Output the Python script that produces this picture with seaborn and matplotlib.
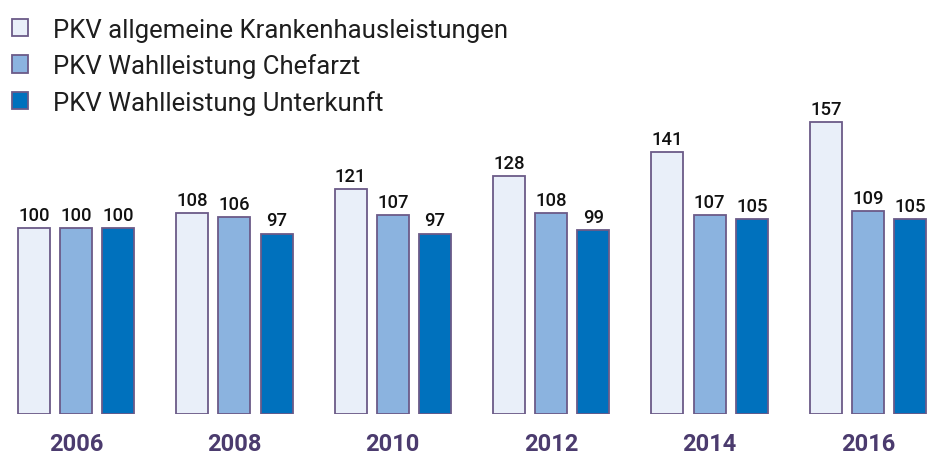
import matplotlib
matplotlib.use("Agg")
import matplotlib.pyplot as plt
import seaborn as sns
import pandas as pd

years = ["2006", "2008", "2010", "2012", "2014", "2016"]
series = [
    "PKV allgemeine Krankenhausleistungen",
    "PKV Wahlleistung Chefarzt",
    "PKV Wahlleistung Unterkunft",
]
allgemein = [100, 108, 121, 128, 141, 157]
chefarzt = [100, 106, 107, 108, 107, 109]
unterkunft = [100, 97, 97, 99, 105, 105]

colors = ["#e9eff9", "#8bb3df", "#0071bd"]
edge = "#6b5a88"
year_color = "#4b3b6e"

rows = []
for name, vals in zip(series, [allgemein, chefarzt, unterkunft]):
    for y, v in zip(years, vals):
        rows.append({"Jahr": y, "Serie": name, "Wert": v})
df = pd.DataFrame(rows)

sns.set_style("white")
plt.rcParams["font.family"] = ["Roboto", "DejaVu Sans"]

fig = plt.figure(figsize=(9.32, 4.56), dpi=100)
ax = fig.add_axes([0, 41 / 456, 1, 415 / 456])

sns.barplot(
    data=df, x="Jahr", y="Wert", hue="Serie", hue_order=series,
    palette=colors, saturation=1, edgecolor=edge, linewidth=1.3,
    width=0.8, gap=0.24, ax=ax, legend=True,
)

for cont in ax.containers:
    ax.bar_label(cont, padding=3, fontsize=13.3, fontweight="medium", color="#111111")

ax.set_xlim(-76 / 158.4, (932 - 76) / 158.4)
ax.set_ylim(0, 415 / 1.86)
sns.despine(ax=ax, left=True, bottom=True)
ax.set_yticks([])
ax.set_xlabel("")
ax.set_ylabel("")
ax.tick_params(axis="x", length=0, pad=13)
for lab in ax.get_xticklabels():
    lab.set_fontsize(17)
    lab.set_fontweight("bold")
    lab.set_color(year_color)

leg = ax.legend(
    loc="upper left", bbox_to_anchor=(0, 1 - 7 / 456), bbox_transform=fig.transFigure,
    frameon=False, fontsize=18.5, handlelength=0.65, handleheight=0.65,
    handletextpad=0.95, labelspacing=0.45, borderaxespad=0.05,
)
for t in leg.get_texts():
    t.set_color("#1e1e1e")

fig.savefig("out.png", dpi=100)
